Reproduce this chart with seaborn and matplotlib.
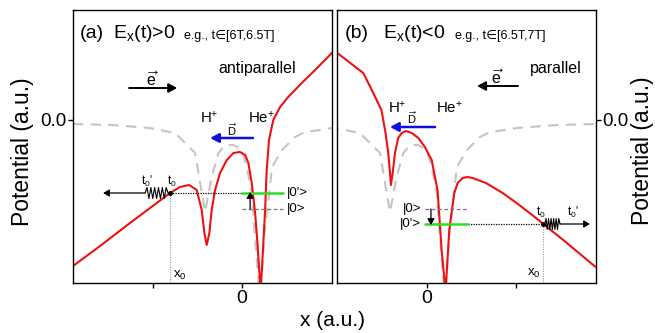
import numpy as np
import matplotlib
matplotlib.use("Agg")
import matplotlib.pyplot as plt
import seaborn as sns

# ---------------- data ----------------
# field-free potential (grey dashed), same in both panels
free_x = [-9.49, -7.30, -5.17, -3.75, -2.62, -2.34, -2.06, -1.69, -1.31, -0.94, -0.47, 0.00,
          0.28, 0.56, 0.80, 1.03, 1.28, 1.70, 2.26, 2.99, 3.56, 4.40, 5.06, 7.30, 9.51]
free_y = [-0.04, -0.05, -0.08, -0.13, -0.33, -0.63, -0.92, -0.57, -0.33, -0.25, -0.25, -0.30,
          -0.47, -0.73, -1.30, -1.80, -1.13, -0.47, -0.30, -0.17, -0.12, -0.10, -0.08, -0.05, -0.04]

# panel (a): E_x(t) > 0
a_x = [-9.48, -7.96, -6.28, -5.15, -4.03, -3.47, -2.96, -2.53, -2.25, -2.10, -1.97, -1.82,
       -1.69, -1.50, -1.22, -0.84, -0.47, -0.10, 0.19, 0.37, 0.56, 0.75, 0.88, 0.99, 1.05,
       1.12, 1.21, 1.31, 1.40, 1.53, 1.77, 2.15, 2.61, 3.37, 4.12, 5.06]
a_y = [-1.46, -1.26, -1.03, -0.88, -0.73, -0.67, -0.65, -0.70, -0.90, -1.13, -1.25, -1.13,
       -0.90, -0.70, -0.53, -0.40, -0.33, -0.32, -0.35, -0.43, -0.63, -0.93, -1.23, -1.53, -1.70,
       -1.53, -1.23, -0.90, -0.50, -0.20, 0.00, 0.13, 0.23, 0.37, 0.50, 0.67]

# panel (b): E_x(t) < 0
b_x = [-5.02, -3.56, -3.00, -2.54, -2.31, -2.16, -2.06, -2.01, -1.91, -1.78, -1.60, -1.40,
       -1.16, -0.84, -0.47, -0.10, 0.28, 0.61, 0.84, 1.06, 1.27, 1.42, 1.55, 1.74, 2.02, 2.30,
       2.58, 3.33, 4.27, 5.20, 6.14, 6.55, 7.67, 9.49]
b_y = [0.67, 0.47, 0.27, 0.10, -0.13, -0.33, -0.53, -0.65, -0.53, -0.33, -0.18, -0.13,
       -0.11, -0.13, -0.18, -0.27, -0.40, -0.70, -1.30, -1.72, -1.10, -0.90, -0.73, -0.63, -0.58,
       -0.57, -0.58, -0.63, -0.73, -0.85, -0.98, -1.04, -1.20, -1.47]

# level / tunnelling annotations
a_x0, a_level, a_level0 = -4.03, -0.73, -0.89
b_x0, b_level, b_level0 = 6.53, -1.04, -0.89

xlim_a = (-9.48, 5.04)
xlim_b = (-5.02, 9.51)
ylim = (-1.633, 1.10)

# ---------------- style ----------------
sns.set_theme(style="ticks")
plt.rcParams["font.family"] = ["Liberation Sans", "DejaVu Sans"]
plt.rcParams["mathtext.fontset"] = "custom"
plt.rcParams["mathtext.rm"] = "Liberation Sans"
plt.rcParams["mathtext.it"] = "Liberation Sans:italic"
plt.rcParams["mathtext.bf"] = "Liberation Sans:bold"
plt.rcParams["text.color"] = "black"
plt.rcParams["axes.labelcolor"] = "black"
plt.rcParams["xtick.color"] = "black"
plt.rcParams["ytick.color"] = "black"

RED = "#ee1111"
GREY = "#c4c4c4"
GREEN = "#33dd22"
BLUE = "#1010dd"

fig = plt.figure(figsize=(6.67, 3.33), dpi=100)
axA = fig.add_axes([73 / 667, (333 - 283.3) / 333, 258.5 / 667, 273.3 / 333])
axB = fig.add_axes([337.3 / 667, (333 - 283.3) / 333, 258.7 / 667, 273.3 / 333])

for ax, cx, cy, xl in [(axA, a_x, a_y, xlim_a), (axB, b_x, b_y, xlim_b)]:
    sns.lineplot(x=free_x, y=free_y, ax=ax, color=GREY, lw=1.5,
                 linestyle=(0, (5, 3.5)), estimator=None, sort=False)
    sns.lineplot(x=cx, y=cy, ax=ax, color=RED, lw=1.5, estimator=None, sort=False)
    ax.set_xlim(*xl)
    ax.set_ylim(*ylim)
    for s in ax.spines.values():
        s.set_visible(True)
        s.set_color("black")
        s.set_linewidth(1.0)
    ax.tick_params(direction="out", length=3.5, width=1.0, colors="black",
                   labelsize=14, pad=1.5)
    ax.set_xlabel("")
    ax.set_ylabel("")

axA.set_xticks([-5, 0])
axA.set_xticklabels(["", "0"])
axB.set_xticks([0, 5])
axB.set_xticklabels(["0", ""])
axA.set_yticks([0.0])
axA.set_yticklabels(["0.0"], fontsize=13.5)
axB.yaxis.tick_right()
axB.set_yticks([0.0])
axB.set_yticklabels(["0.0"], fontsize=13.5)
axA.tick_params(axis="y", pad=1)
axB.tick_params(axis="y", pad=1)


def arrow(ax, x1, y1, x2, y2, color="black", lw=1.3, hw=0.45, hl=0.7):
    ax.annotate("", xy=(x2, y2), xytext=(x1, y1),
                arrowprops=dict(arrowstyle=f"-|>,head_width={hw*0.5},head_length={hl*0.6}",
                                color=color, lw=lw, shrinkA=0, shrinkB=0))


def spring(ax, xs, xe, y, n=6, amp=0.055):
    px = np.linspace(xs, xe, 2 * n + 1)
    py = np.array([y] + [y + (amp if i % 2 else -amp) for i in range(1, 2 * n)] + [y])
    ax.plot(px, py, color="black", lw=0.8)


# ---------------- panel (a) annotations ----------------
axA.text(-9.08, 0.815, "(a)", fontsize=14)
axA.text(-7.23, 0.815, r"E$_\mathregular{x}$(t)>0", fontsize=14)
axA.text(-3.24, 0.815, "e.g., t\u2208[6T,6.5T]", fontsize=9)
axA.text(-1.33, 0.47, "antiparallel", fontsize=11.5)
arrow(axA, -6.33, 0.32, -3.63, 0.32, lw=1.4)
axA.text(-5.04, 0.345, r"$\overrightarrow{\mathregular{e}}$", fontsize=11.5, ha="center")
axA.text(-2.34, -0.03, r"H$^\mathregular{+}$", fontsize=10.8)
axA.text(0.35, -0.03, r"He$^\mathregular{+}$", fontsize=10.8)
arrow(axA, 0.63, -0.18, -1.78, -0.18, color=BLUE, lw=1.8)
axA.text(-0.54, -0.155, r"$\overrightarrow{\mathregular{D}}$", fontsize=8, ha="center")

axA.plot([a_x0, 0.0], [a_level, a_level], color="black", lw=0.9, linestyle=(0, (1, 1)))
axA.plot([0.0, 2.32], [a_level, a_level], color=GREEN, lw=1.8)
axA.plot([0.0, 2.32], [a_level0, a_level0], color="#777777", lw=0.9, linestyle=(0, (3, 2)))
arrow(axA, 0.47, a_level0, 0.47, a_level + 0.01, lw=0.9, hw=0.35, hl=0.5)
axA.text(2.55, a_level, "|0'>", fontsize=9.5, va="center")
axA.text(2.55, a_level0, "|0>", fontsize=9.5, va="center")
axA.plot([a_x0, a_x0], [a_level, ylim[0]], color="#999999", lw=0.8, linestyle=(0, (1, 1.2)))
axA.text(-3.86, -1.55, r"x$_\mathregular{0}$", fontsize=9.5, va="center")
spring(axA, -5.43, -4.14, a_level)
axA.plot([-4.14, a_x0], [a_level, a_level], color="black", lw=0.8)
arrow(axA, -5.43, a_level, -7.79, a_level, lw=0.9, hw=0.35, hl=0.5)
axA.plot([a_x0], [a_level], marker="o", ms=2.5, color="black")
axA.text(-5.35, a_level + 0.04, r"t$_\mathregular{0}$'", fontsize=8.5, va="bottom", ha="center")
axA.text(-3.95, a_level + 0.04, r"t$_\mathregular{0}$", fontsize=8.5, va="bottom", ha="center")

# ---------------- panel (b) annotations ----------------
axB.text(-4.59, 0.815, "(b)", fontsize=14)
axB.text(-2.47, 0.815, r"E$_\mathregular{x}$(t)<0", fontsize=14)
axB.text(1.59, 0.815, "e.g., t\u2208[6.5T,7T]", fontsize=9)
axB.text(5.80, 0.47, "parallel", fontsize=11.5)
arrow(axB, 5.13, 0.34, 2.83, 0.34, lw=1.4)
axB.text(3.95, 0.365, r"$\overrightarrow{\mathregular{e}}$", fontsize=11.5, ha="center")
axB.text(-2.17, 0.07, r"H$^\mathregular{+}$", fontsize=10.8)
axB.text(0.52, 0.07, r"He$^\mathregular{+}$", fontsize=10.8)
arrow(axB, 0.47, -0.07, -2.06, -0.07, color=BLUE, lw=1.8)
axB.text(-0.83, -0.045, r"$\overrightarrow{\mathregular{D}}$", fontsize=8, ha="center")

axB.plot([2.32, b_x0], [b_level, b_level], color="black", lw=0.9, linestyle=(0, (1, 1)))
axB.plot([-0.1, 2.32], [b_level, b_level], color=GREEN, lw=1.8)
axB.plot([-0.1, 2.32], [b_level0, b_level0], color="#777777", lw=0.9, linestyle=(0, (3, 2)))
arrow(axB, 0.24, b_level0, 0.24, b_level - 0.01, lw=0.9, hw=0.35, hl=0.5)
axB.text(-0.3, b_level0, "|0>", fontsize=9.5, va="center", ha="right")
axB.text(-0.3, b_level, "|0'>", fontsize=9.5, va="center", ha="right")
axB.plot([b_x0, b_x0], [b_level, ylim[0]], color="#999999", lw=0.8, linestyle=(0, (1, 1.2)))
axB.text(6.42, -1.53, r"x$_\mathregular{0}$", fontsize=9.5, va="center", ha="right")
spring(axB, b_x0 + 0.1, 7.49, b_level)
arrow(axB, 7.49, b_level, 9.17, b_level, lw=0.9, hw=0.35, hl=0.5)
axB.plot([b_x0], [b_level], marker="o", ms=2.5, color="black")
axB.text(6.40, b_level + 0.04, r"t$_\mathregular{0}$", fontsize=8.5, va="bottom", ha="center")
axB.text(8.20, b_level + 0.04, r"t$_\mathregular{0}$'", fontsize=8.5, va="bottom", ha="center")

# ---------------- axis titles ----------------
fig.text(23 / 667, 1 - 152 / 333, "Potential (a.u.)", rotation=90, fontsize=16.5,
         ha="center", va="center")
fig.text(643 / 667, 1 - 151 / 333, "Potential (a.u.)", rotation=90, fontsize=16.5,
         ha="center", va="center")
fig.text(333 / 667, 1 - 320 / 333, "x (a.u.)", fontsize=15, ha="center", va="center")

fig.savefig("out.png", dpi=100)
